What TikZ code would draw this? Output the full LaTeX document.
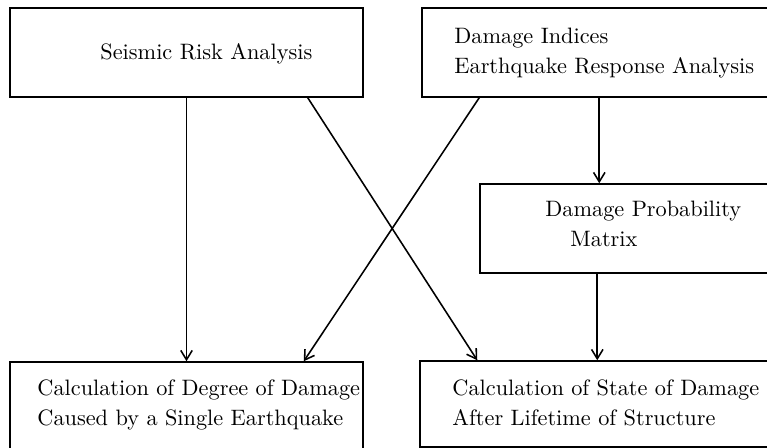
\documentclass[tikz,border=0pt]{standalone}
\usetikzlibrary{fit,calc,arrows.meta}
\begin{document}
\begin{tikzpicture}[x=0.48pt,y=-0.48pt,>={Straight Barb[length=4.5pt,width=5.5pt]},
    blk/.style={draw,line width=0.7pt,inner sep=0pt},
    txt/.style={anchor=north west,align=left,inner sep=0pt,font=\fontsize{10.7}{14.4}\selectfont},
    flow/.style={->,line width=0.75pt}]
  \useasboundingbox (0,0) rectangle (767,448);
  \clip (0,0) rectangle (767,448);

  % boxes
  \node[blk,fit={(10,8) (363,97)}]    (sra) {};
  \node[blk,fit={(422,8) (790,97)}]   (dia) {};
  \node[blk,fit={(480,184) (790,273)}] (dpm) {};
  \node[blk,fit={(10,362) (363,455)}] (cdd) {};
  \node[blk,fit={(420,361) (790,447)}] (csd) {};

  % texts
  \node[txt] (sra-t) at (100,43)  {Seismic Risk Analysis};
  \node[txt] (dia-t) at (454,28)  {Damage Indices\\Earthquake Response Analysis};
  \node[txt] (dpm-t) at (545,201) {Damage Probability\\\hspace*{12pt}Matrix};
  \node[txt] (cdd-t) at (37,379)  {Calculation of Degree of Damage\\Caused by a Single Earthquake};
  \node[txt] (csd-t) at (452,379) {Calculation of State of Damage\\After Lifetime of Structure};

  % connectors
  \draw[flow] (sra.south) -- (cdd.north);
  \draw[flow] ($(sra.south east)+(-56,0)$) -- ($(csd.north west)+(58,0)$);
  \draw[flow] ($(dia.south west)+(58,0)$) -- ($(cdd.north east)+(-60,0)$);
  \draw[flow] ($(dia.south west)+(178,0)$) -- ($(dpm.north west)+(120,0)$);
  \draw[flow] ($(dpm.south west)+(118,0)$) -- ($(csd.north west)+(178,0)$);
\end{tikzpicture}
\end{document}
